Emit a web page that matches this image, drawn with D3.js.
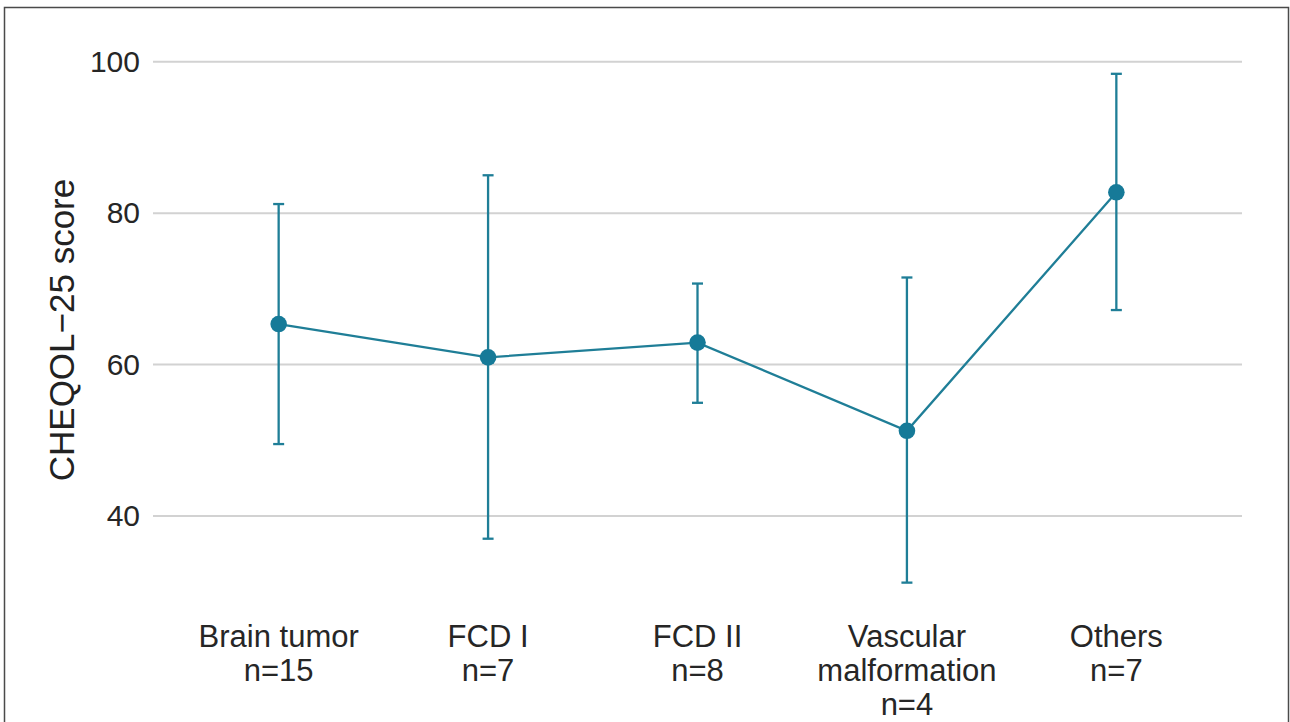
<!DOCTYPE html>
<html>
<head>
<meta charset="utf-8">
<script src="https://cdn.jsdelivr.net/npm/d3@7"></script>
<style>
  html, body { margin: 0; padding: 0; background: #fff; }
  svg { display: block; font-family: "Liberation Sans", Arial, sans-serif; }
</style>
</head>
<body>
<div id="chart"></div>
<script>
// ── Data ─────────────────────────────────────────────────────────────────
const categories = [
  ["Brain tumor", "n=15"],
  ["FCD I", "n=7"],
  ["FCD II", "n=8"],
  ["Vascular", "malformation", "n=4"],
  ["Others", "n=7"],
];
const means = [65.35, 60.95, 62.9, 51.25, 82.75];
const upper = [81.2, 85.0, 70.7, 71.5, 98.4];
const lower = [49.5, 37.0, 54.95, 31.2, 67.2];
const yTicks = [40, 60, 80, 100];

const rows = categories.map((c, i) => ({
  key: c.join(" "),
  lines: c,
  mean: means[i],
  hi: upper[i],
  lo: lower[i],
}));

// ── Dimensions ───────────────────────────────────────────────────────────
const W = 1290, H = 722;
const plot = { left: 153, right: 1242 };

const svg = d3.select("#chart").append("svg")
  .attr("width", W).attr("height", H);

// frame
svg.append("rect")
  .attr("x", 4.5).attr("y", 7.5)
  .attr("width", 1284).attr("height", 740)
  .attr("fill", "none")
  .attr("stroke", "#4a4a4a")
  .attr("stroke-width", 1.5);

// ── Scales ───────────────────────────────────────────────────────────────
const x = d3.scalePoint()
  .domain(rows.map((d) => d.key))
  .range([plot.left, plot.right])
  .padding(0.6);

const y = d3.scaleLinear()
  .domain([40, 100])
  .range([516, 61.7]);

// ── Grid + y ticks ───────────────────────────────────────────────────────
const yAxis = svg.append("g")
  .attr("transform", `translate(${plot.left},0)`)
  .call(d3.axisLeft(y).tickValues(yTicks).tickSize(0).tickPadding(13));
yAxis.select(".domain").remove();
yAxis.selectAll("text")
  .attr("font-size", 30)
  .attr("font-family", "Liberation Sans, Arial, sans-serif")
  .attr("fill", "#262626");

svg.append("g")
  .selectAll("line")
  .data(yTicks)
  .join("line")
  .attr("x1", plot.left).attr("x2", plot.right)
  .attr("y1", (d) => y(d)).attr("y2", (d) => y(d))
  .attr("stroke", "#d2d2d2")
  .attr("stroke-width", 2);

// ── Y title ──────────────────────────────────────────────────────────────
svg.append("text")
  .attr("transform", `translate(74,330) rotate(-90)`)
  .attr("text-anchor", "middle")
  .attr("font-size", 35)
  .attr("fill", "#222")
  .text("CHEQOL\u221225 score");

// ── X labels ─────────────────────────────────────────────────────────────
const xl = svg.append("g")
  .selectAll("text")
  .data(rows)
  .join("text")
  .attr("text-anchor", "middle")
  .attr("font-size", 31)
  .attr("fill", "#262626")
  .attr("transform", (d) => `translate(${x(d.key)},647)`);

xl.selectAll("tspan")
  .data((d) => d.lines)
  .join("tspan")
  .attr("x", 0)
  .attr("y", (d, i) => i * 34)
  .text((d) => d);

// ── Error bars ───────────────────────────────────────────────────────────
const teal = "#1f7e97";
const cap = 5.5;
const eb = svg.append("g")
  .attr("stroke", teal)
  .attr("stroke-width", 2.3)
  .selectAll("g")
  .data(rows)
  .join("g");

eb.append("line")
  .attr("x1", (d) => x(d.key)).attr("x2", (d) => x(d.key))
  .attr("y1", (d) => y(d.hi)).attr("y2", (d) => y(d.lo));
eb.append("line")
  .attr("x1", (d) => x(d.key) - cap).attr("x2", (d) => x(d.key) + cap)
  .attr("y1", (d) => y(d.hi)).attr("y2", (d) => y(d.hi));
eb.append("line")
  .attr("x1", (d) => x(d.key) - cap).attr("x2", (d) => x(d.key) + cap)
  .attr("y1", (d) => y(d.lo)).attr("y2", (d) => y(d.lo));

// ── Mean line + points ───────────────────────────────────────────────────
svg.append("path")
  .datum(rows)
  .attr("fill", "none")
  .attr("stroke", teal)
  .attr("stroke-width", 2.3)
  .attr("d", d3.line().x((d) => x(d.key)).y((d) => y(d.mean)));

svg.append("g")
  .selectAll("circle")
  .data(rows)
  .join("circle")
  .attr("cx", (d) => x(d.key))
  .attr("cy", (d) => y(d.mean))
  .attr("r", 8.3)
  .attr("fill", "#167a98");
</script>
</body>
</html>
